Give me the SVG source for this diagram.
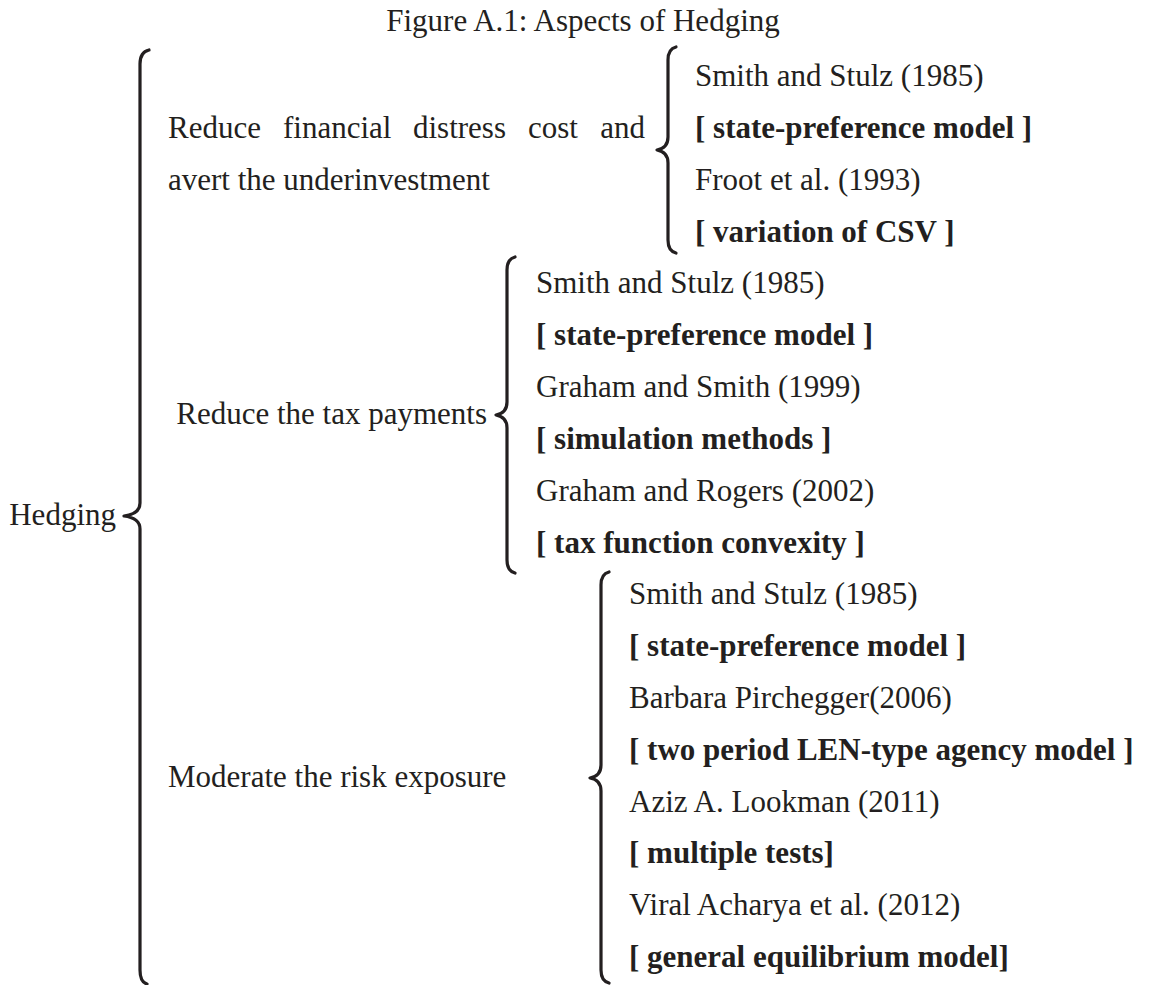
<svg xmlns="http://www.w3.org/2000/svg" width="1160" height="985" viewBox="0 0 1160 985">
<style>
text{font-family:"Liberation Serif","Times New Roman",serif;font-size:31px;fill:#231f20}
.b{font-weight:bold}
.br{fill:none;stroke:#231f20;stroke-width:3.2;stroke-linecap:round;stroke-linejoin:round}
</style>
<rect width="1160" height="985" fill="#fff"/>
<text id="title" x="583" y="31" text-anchor="middle">Figure A.1: Aspects of Hedging</text>
<g id="connectors">
<path class="br" d="M149,50 Q140,52 140,64 L140,503 Q140,514 124,516 Q140,518 140,529 L140,970 Q140,982 147,984"/>
<path class="br" d="M676,47 Q668,49 668,60 L668,137 Q668,148 657,150 Q668,152 668,163 L668,240 Q668,251 676,253"/>
<path class="br" d="M515,257 Q507,259 507,270 L507,402 Q507,413 496,415 Q507,417 507,428 L507,560 Q507,571 515,573"/>
<path class="br" d="M609,572 Q601,574 601,585 L601,765 Q601,776 590,778 Q601,780 601,791 L601,970 Q601,981 609,983"/>
</g>
<g id="hedging"><text x="116" y="525" text-anchor="end">Hedging</text></g>
<g id="reduce-distress">
<text y="138"><tspan x="168">Reduce</tspan><tspan x="283">financial</tspan><tspan x="413">distress</tspan><tspan x="528">cost</tspan><tspan x="645" text-anchor="end">and</tspan></text>
<text x="168" y="190">avert the underinvestment</text>
</g>
<g id="refs-distress">
<text x="695" y="86">Smith and Stulz (1985)</text>
<text class="b" x="695" y="138">[ state-preference model ]</text>
<text x="695" y="190">Froot et al. (1993)</text>
<text class="b" x="695" y="242">[ variation of CSV ]</text>
</g>
<g id="reduce-tax"><text x="487" y="424" text-anchor="end">Reduce the tax payments</text></g>
<g id="refs-tax">
<text x="536" y="293">Smith and Stulz (1985)</text>
<text class="b" x="536" y="345">[ state-preference model ]</text>
<text x="536" y="397">Graham and Smith (1999)</text>
<text class="b" x="536" y="449">[ simulation methods ]</text>
<text x="536" y="501">Graham and Rogers (2002)</text>
<text class="b" x="536" y="553">[ tax function convexity ]</text>
</g>
<g id="moderate-risk"><text x="168" y="787">Moderate the risk exposure</text></g>
<g id="refs-risk">
<text x="629" y="604">Smith and Stulz (1985)</text>
<text class="b" x="629" y="656">[ state-preference model ]</text>
<text x="629" y="708">Barbara Pirchegger(2006)</text>
<text class="b" x="629" y="760">[ two period LEN-type agency model ]</text>
<text x="629" y="812">Aziz A. Lookman (2011)</text>
<text class="b" x="629" y="863">[ multiple tests]</text>
<text x="629" y="915">Viral Acharya et al. (2012)</text>
<text class="b" x="629" y="967">[ general equilibrium model]</text>
</g>
</svg>
